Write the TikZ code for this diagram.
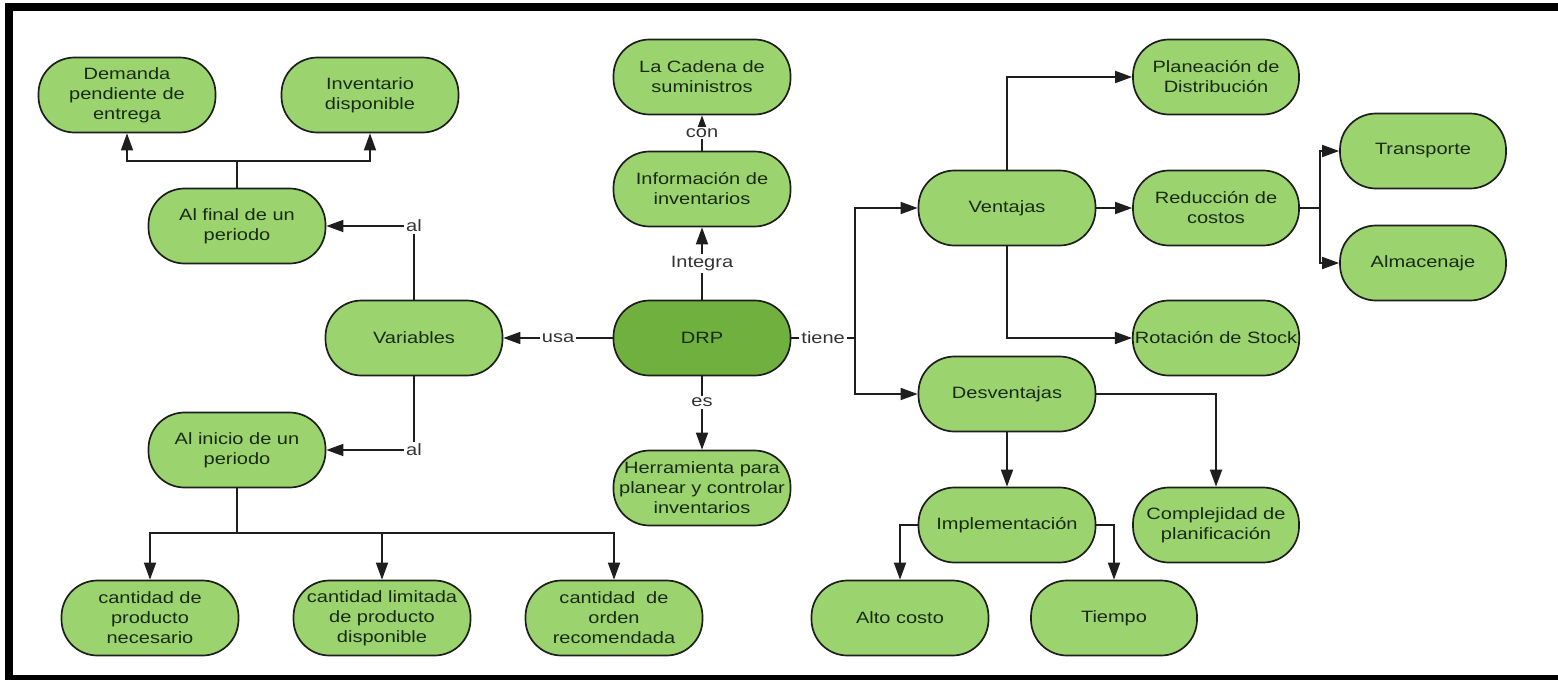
\documentclass[tikz,border=0pt]{standalone}
\usepackage{fontspec}
\setmainfont{Liberation Sans}[FakeStretch=1.22]
\usetikzlibrary{arrows.meta}
\definecolor{leaf}{HTML}{9BD46E}
\definecolor{core}{HTML}{70B03E}
\definecolor{ink}{HTML}{1A2A12}
\definecolor{edge}{HTML}{1E1E1E}
\begin{document}
\begin{tikzpicture}[x=0.5pt,y=-0.5pt,
  concept/.style={draw=edge, line width=0.85pt, fill=leaf, rounded corners=18pt,
    minimum width=88.5pt, minimum height=37.5pt, inner sep=1pt, align=center,
    text=ink, font=\fontsize{8.2}{10}\selectfont},
  narrow/.style={concept, minimum width=83pt},
  link/.style={draw=edge, line width=0.85pt, -{Triangle[length=8.5pt,width=6pt]}},
  plain/.style={draw=edge, line width=0.85pt},
  tag/.style={fill=white, inner sep=1pt, text=black!80, font=\fontsize{8.2}{10}\selectfont}
]
\useasboundingbox (0,0) rectangle (1558,680);

% frame
\fill[black] (5,3) rectangle (1558,11);
\fill[black] (5,3) rectangle (13,680);
\fill[black] (5,675) rectangle (1558,680);

% concepts
\node[concept] (dem) at (127,95) {Demanda\\pendiente de\\entrega};
\node[concept] (inv) at (370,95) {Inventario\\disponible};
\node[concept] (fin) at (237,226) {Al final de un\\periodo};
\node[concept] (var) at (414,338) {Variables};
\node[concept] (ini) at (237,450) {Al inicio de un\\periodo};
\node[concept] (c1) at (150,618) {cantidad de\\producto\\necesario};
\node[concept] (c2) at (382,618) {cantidad limitada\\de producto\\disponible};
\node[concept] (c3) at (614,618) {cantidad\ \ de\\orden\\recomendada};
\node[concept, fill=core] (drp) at (702,338) {DRP};
\node[concept] (cad) at (702,77) {La Cadena de\\suministros};
\node[concept] (info) at (702,189) {Información de\\inventarios};
\node[concept] (herr) at (702,488) {Herramienta para\\planear y controlar\\inventarios};
\node[concept] (ven) at (1007,208) {Ventajas};
\node[concept] (des) at (1007,394) {Desventajas};
\node[narrow] (pla) at (1216,77) {Planeación de\\Distribución};
\node[narrow] (red) at (1216,208) {Reducción de\\costos};
\node[narrow] (rot) at (1216,338) {Rotación de Stock};
\node[narrow] (tra) at (1423,151) {Transporte};
\node[narrow] (alm) at (1423,263) {Almacenaje};
\node[narrow] (com) at (1216,525) {Complejidad de\\planificación};
\node[concept] (imp) at (1007,525) {Implementación};
\node[concept] (alt) at (900,618) {Alto costo};
\node[narrow] (tie) at (1114,618) {Tiempo};

% left branch
\coordinate (finj) at (237,161);
\draw[plain] (fin.north) -- (finj);
\draw[link] (finj) -| (dem.south);
\draw[link] (finj) -| (inv.south);
\draw[link] (var.north) |- node[tag,pos=0.5]{al} (fin.east);
\draw[link] (var.south) |- node[tag,pos=0.5]{al} (ini.east);
\coordinate (inij) at (237,533);
\draw[plain] (ini.south) -- (inij);
\draw[link] (inij) -| (c1.north);
\draw[link] (inij) -| (c2.north);
\draw[link] (inij) -| (c3.north);

% centre
\draw[link] (drp.west) -- node[tag,pos=0.5]{usa} (var.east);
\draw[link] (drp.north) -- node[tag]{Integra} (info.south);
\draw[link] (info.north) -- node[tag]{con} (cad.south);
\draw[link] (drp.south) -- node[tag,pos=0.35]{es} (herr.north);
\coordinate (tj) at (855,338);
\draw[plain] (drp.east) -- node[tag]{tiene} (tj);
\draw[link] (tj) |- (ven.west);
\draw[link] (tj) |- (des.west);

% advantages
\draw[link] (ven.north) |- (pla.west);
\draw[link] (ven.south) |- (rot.west);
\draw[link] (ven.east) -- (red.west);
\coordinate (rj) at (1320,208);
\draw[plain] (red.east) -- (rj);
\draw[link] (rj) |- (tra.west);
\draw[link] (rj) |- (alm.west);

% disadvantages
\draw[link] (des.east) -| (com.north);
\draw[link] (des.south) -- (imp.north);
\draw[link] (imp.west) -| (alt.north);
\draw[link] (imp.east) -| (tie.north);
\end{tikzpicture}
\end{document}
